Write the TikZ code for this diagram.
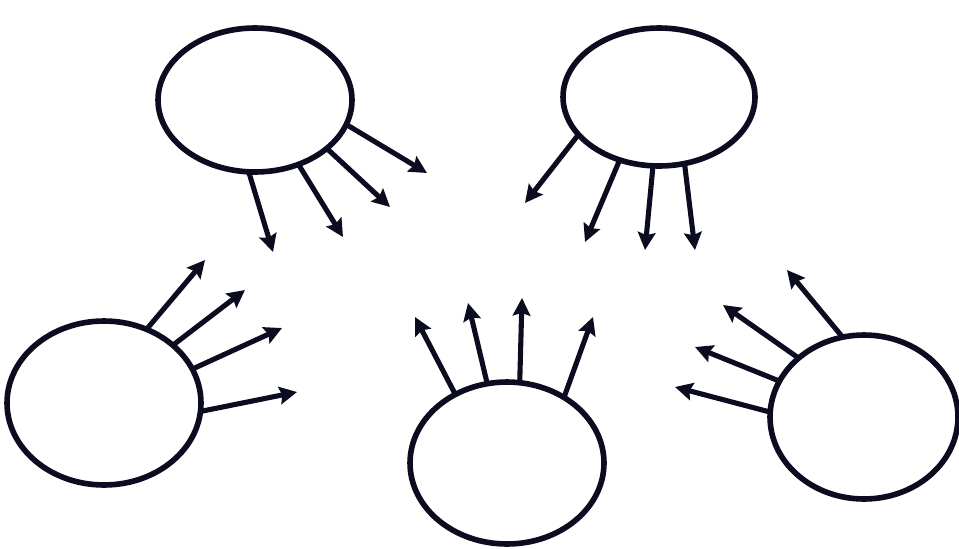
\documentclass[tikz,border=0pt]{standalone}
\usepackage{tikz}
\usetikzlibrary{arrows.meta,shapes.geometric}
\definecolor{sink}{HTML}{0C0C20}
\tikzset{
  sblob/.style={
    ellipse, draw=sink, line width=3.2pt, fill=white,
    inner sep=0pt, outer sep=0pt},
  sray/.style={-{Stealth[length=10pt,width=10pt,inset=1.5pt]}, draw=sink,
    line width=2.9pt},
}
\begin{document}
\begin{tikzpicture}[x=0.02cm,y=-0.02cm]
\useasboundingbox (0,0) rectangle (959,548);

% the five groups
\node[sblob,minimum width=3.88cm,minimum height=2.88cm] (tl) at (255,100) {};
\node[sblob,minimum width=3.84cm,minimum height=2.76cm] (tr) at (659,97) {};
\node[sblob,minimum width=3.88cm,minimum height=3.28cm] (lf) at (104,403) {};
\node[sblob,minimum width=3.88cm,minimum height=3.24cm] (bt) at (507,463) {};
\node[sblob,minimum width=3.76cm,minimum height=3.28cm] (rt) at (864,417) {};

% free ends of the rays
\coordinate (tl1) at (273,252);
\coordinate (tl2) at (343,237);
\coordinate (tl3) at (390,207);
\coordinate (tl4) at (427,173);
\coordinate (tr1) at (525,203);
\coordinate (tr2) at (585,242);
\coordinate (tr3) at (645,250);
\coordinate (tr4) at (695,250);
\coordinate (lf1) at (205,260);
\coordinate (lf2) at (245,290);
\coordinate (lf3) at (282,328);
\coordinate (lf4) at (297,392);
\coordinate (bt1) at (415,317);
\coordinate (bt2) at (468,303);
\coordinate (bt3) at (522,298);
\coordinate (bt4) at (593,317);
\coordinate (rt1) at (787,270);
\coordinate (rt2) at (723,305);
\coordinate (rt3) at (695,347);
\coordinate (rt4) at (675,387);

% rays, top left
\draw[sray] (tl.-95.3) -- (tl1);
\draw[sray] (tl.-56.5) -- (tl2);
\draw[sray] (tl.-34.8) -- (tl3);
\draw[sray] (tl.-15.2) -- (tl4);

% rays, top right
\draw[sray] (tr.-155.1) -- (tr1);
\draw[sray] (tr.-122.2) -- (tr2);
\draw[sray] (tr.-95.7) -- (tr3);
\draw[sray] (tr.-69.1) -- (tr4);

% rays, left
\draw[sray] (lf.60.5) -- (lf1);
\draw[sray] (lf.40.2) -- (lf2);
\draw[sray] (lf.21.6) -- (lf3);
\draw[sray] (lf.-5.2) -- (lf4);

% rays, bottom
\draw[sray] (bt.127.6) -- (bt1);
\draw[sray] (bt.104.0) -- (bt2);
\draw[sray] (bt.81.1) -- (bt3);
\draw[sray] (bt.49.4) -- (bt4);

% rays, right
\draw[sray] (rt.105.4) -- (rt1);
\draw[sray] (rt.138.2) -- (rt2);
\draw[sray] (rt.157.4) -- (rt3);
\draw[sray] (rt.177.0) -- (rt4);

\end{tikzpicture}
\end{document}
